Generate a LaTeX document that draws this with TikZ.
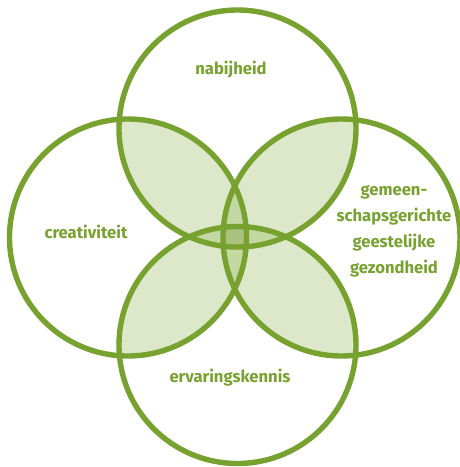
\documentclass[tikz,border=0pt]{standalone}
\usepackage{fontspec}
\setmainfont{Fira Sans}
\usepackage{xcolor}
\usetikzlibrary{positioning}
\definecolor{leaf}{HTML}{78A22F}
\definecolor{leaflight}{HTML}{DDE8CB}
\definecolor{leafmid}{HTML}{C4D8A4}
\definecolor{leafdark}{HTML}{A9C27D}
\newcommand{\ringr}{118.5pt}

\begin{document}
\begin{tikzpicture}[x=1pt, y=-1pt,
  ring/.style={draw=leaf, line width=5.4pt},
  petaltext/.style={text=leaf, font=\fontsize{16.6}{26}\selectfont\bfseries, align=center, inner sep=0pt}]
  \useasboundingbox (0,0) rectangle (459,467);
  \coordinate (ctop) at (237.5,128.5);
  \coordinate (cleft) at (128,237.5);
  \coordinate (cright) at (341.5,237.5);
  \coordinate (cbot) at (237.5,345);

  % two circles
  \foreach \a/\b in {ctop/cleft, ctop/cright, ctop/cbot, cleft/cright, cleft/cbot, cright/cbot} {
    \begin{scope}
      \clip (\a) circle[radius=\ringr];
      \fill[leaflight] (\b) circle[radius=\ringr];
    \end{scope}
  }
  % three circles
  \foreach \a/\b/\c in {ctop/cbot/cleft, ctop/cbot/cright, cleft/cright/ctop, cleft/cright/cbot} {
    \begin{scope}
      \clip (\a) circle[radius=\ringr];
      \clip (\b) circle[radius=\ringr];
      \fill[leafmid] (\c) circle[radius=\ringr];
    \end{scope}
  }
  % all four
  \begin{scope}
    \clip (ctop) circle[radius=\ringr];
    \clip (cbot) circle[radius=\ringr];
    \clip (cleft) circle[radius=\ringr];
    \fill[leafdark] (cright) circle[radius=\ringr];
  \end{scope}

  \foreach \c in {ctop, cleft, cright, cbot}
    \draw[ring] (\c) circle[radius=\ringr];

  \node[petaltext] (nabij) at (231,70) {nabijheid};
  \node[petaltext] (creat) at (86,232) {creativiteit};
  \node[petaltext] (ervar) at (230,378) {ervaringskennis};
  \node[petaltext] (gezond) at (394,231) {gemeen-\\schapsgerichte\\geestelijke\\gezondheid};
\end{tikzpicture}
\end{document}
